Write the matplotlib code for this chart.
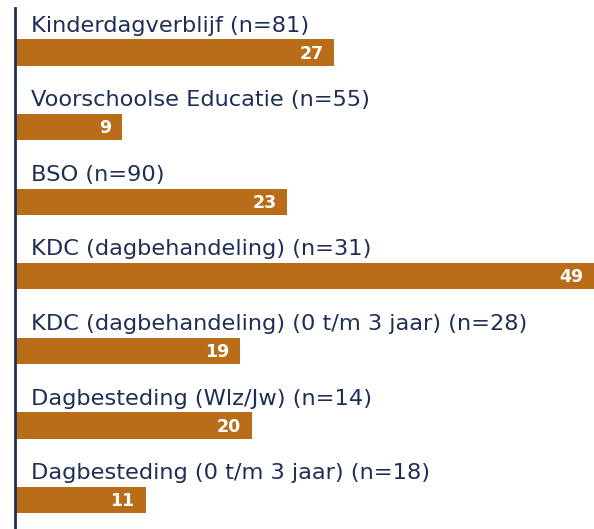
import matplotlib.pyplot as plt
from matplotlib.transforms import offset_copy

categories = [
    "Kinderdagverblijf (n=81)",
    "Voorschoolse Educatie (n=55)",
    "BSO (n=90)",
    "KDC (dagbehandeling) (n=31)",
    "KDC (dagbehandeling) (0 t/m 3 jaar) (n=28)",
    "Dagbesteding (Wlz/Jw) (n=14)",
    "Dagbesteding (0 t/m 3 jaar) (n=18)",
]
values = [27, 9, 23, 49, 19, 20, 11]

bar_color = "#b96d18"
navy = "#1e2f55"

fig = plt.figure(figsize=(5.94, 5.29), dpi=100)
ax = fig.add_axes([16 / 594, 0, 578 / 594, 1])

pos = list(range(len(values)))
ax.barh(pos, values, height=0.35, color=bar_color)
ax.set_xlim(0, 49)
ax.set_ylim(6.387, -0.704)
ax.axis("off")

label_tr = offset_copy(ax.transData, fig=fig, x=15, y=0, units="dots")
value_tr = offset_copy(ax.transData, fig=fig, x=-11, y=-1, units="dots")
for i, (cat, v) in enumerate(zip(categories, values)):
    ax.text(0, i - 0.28, cat, transform=label_tr, ha="left", va="baseline",
            fontsize=16.2, color=navy, family="DejaVu Sans")
    ax.text(v, i, str(v), transform=value_tr, ha="right", va="center",
            fontsize=12.5, color="white", fontweight="bold", family="DejaVu Sans")

# left axis line
fig.add_artist(plt.Line2D([14.5 / 594, 14.5 / 594], [0, 1 - 8 / 529],
                          color=navy, linewidth=2, transform=fig.transFigure))

fig.savefig("out.png", dpi=100)
